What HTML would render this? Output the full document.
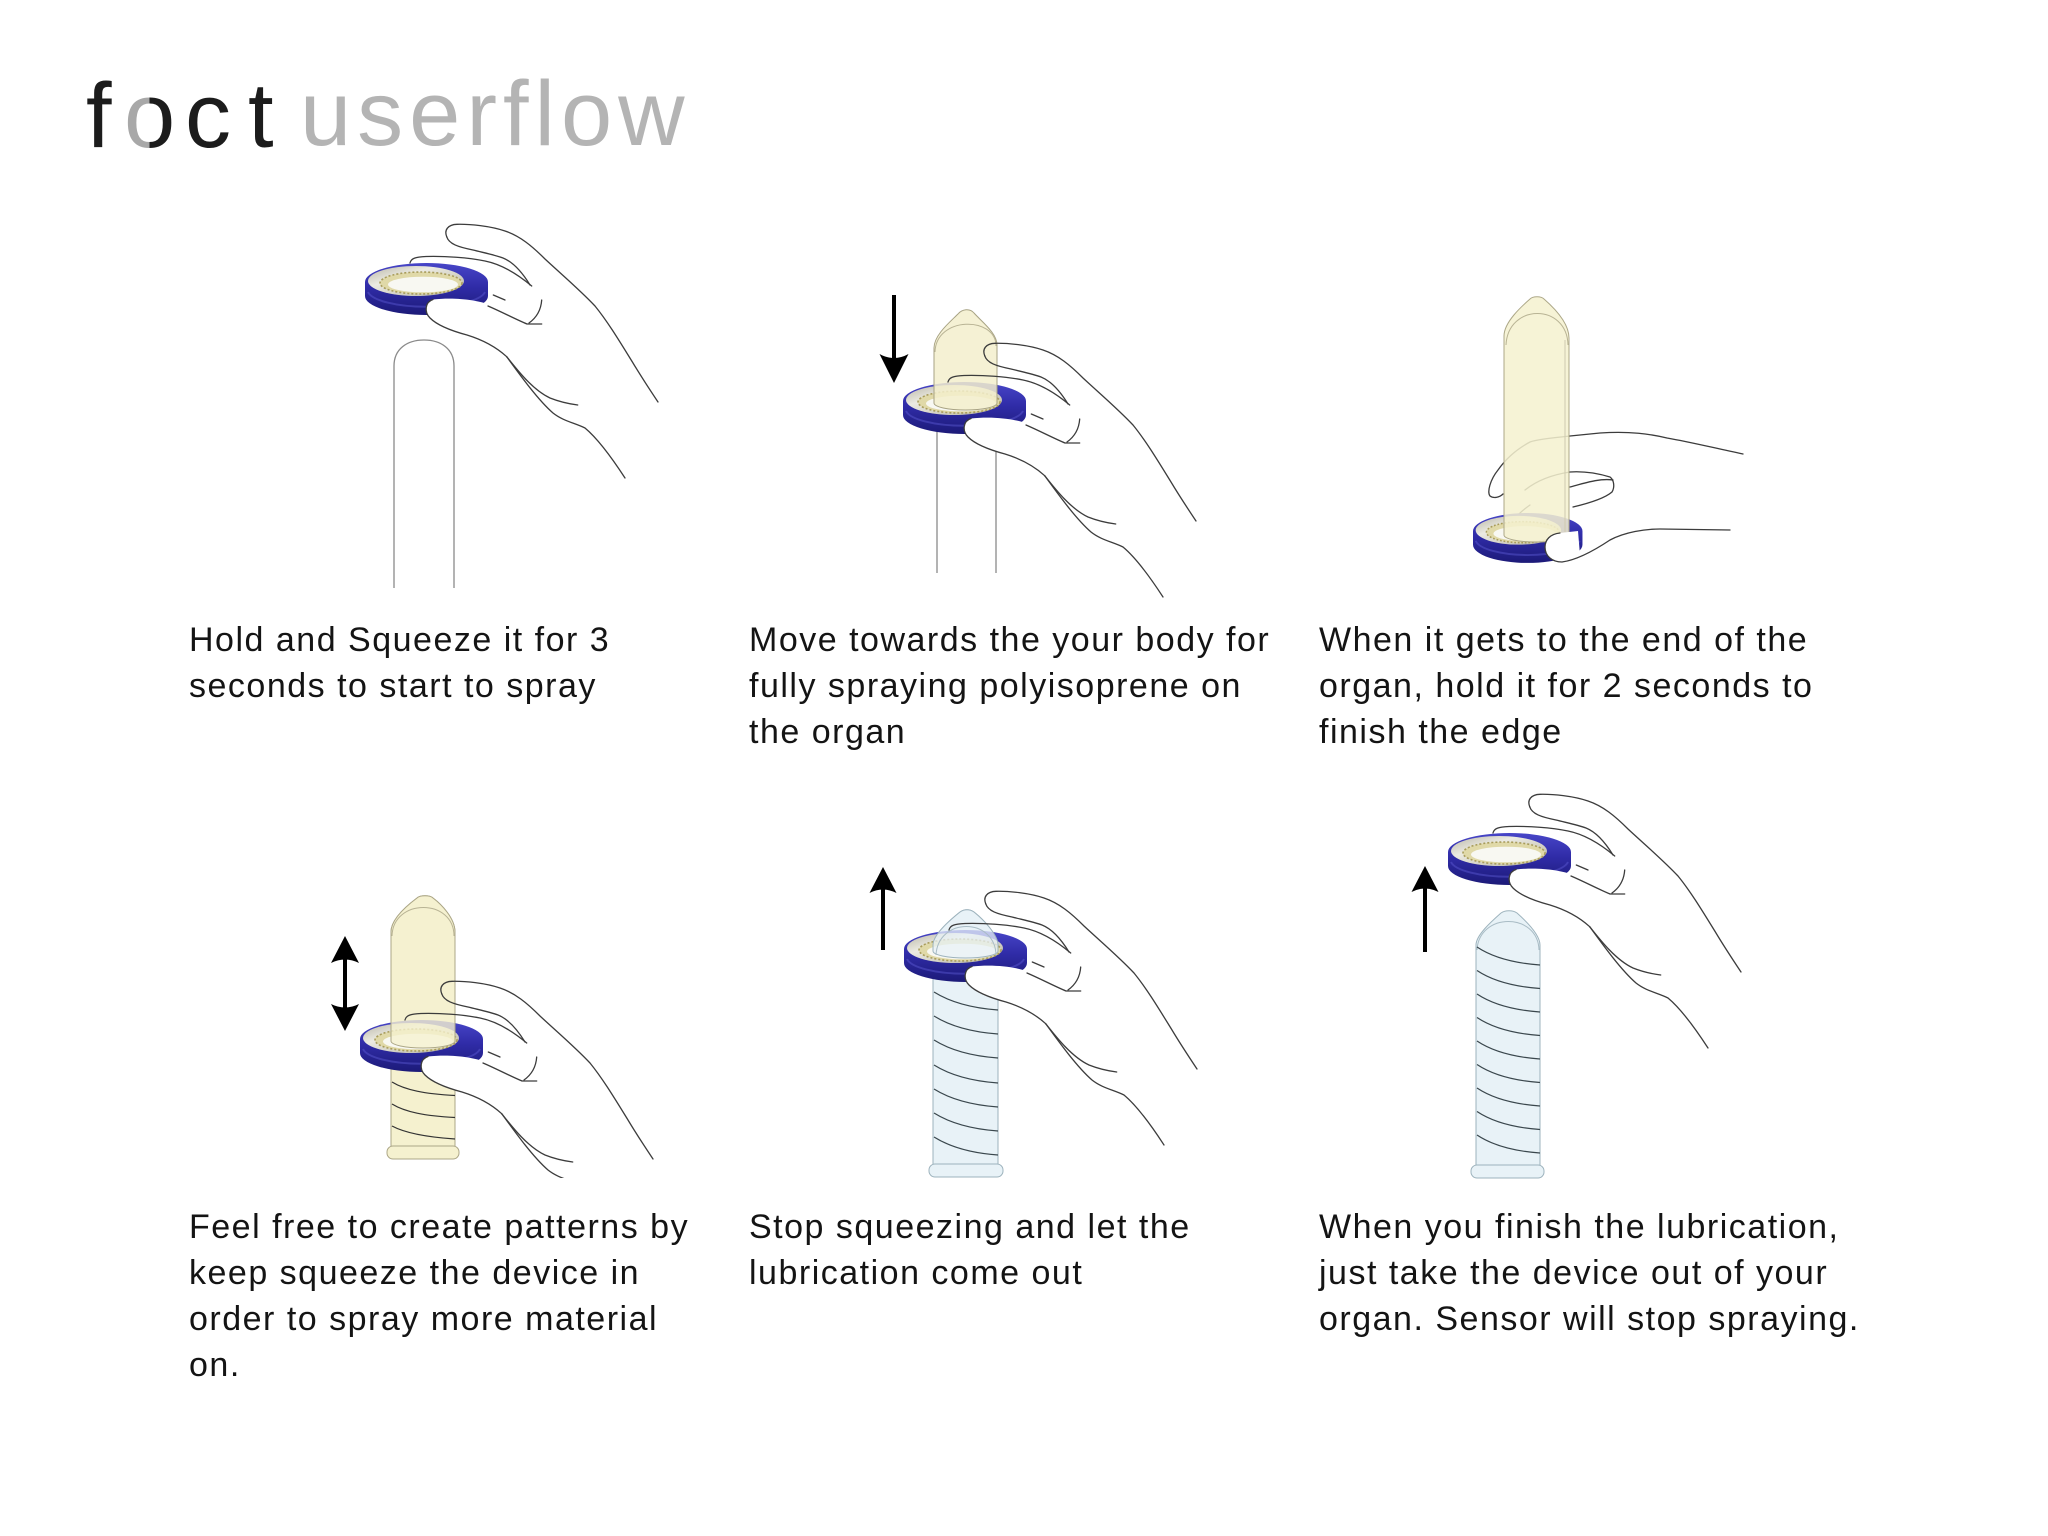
<!DOCTYPE html>
<html>
<head>
<meta charset="utf-8">
<style>
  html,body{margin:0;padding:0;background:#fff;}
  svg{display:block;}
  .t{font-family:"Liberation Sans",Arial,sans-serif;font-size:34px;letter-spacing:1.5px;fill:#141414;}
</style>
</head>
<body>
<svg width="2048" height="1536" viewBox="0 0 2048 1536" xmlns="http://www.w3.org/2000/svg">
<defs>
  <linearGradient id="blue" x1="0" y1="0" x2="0" y2="1">
    <stop offset="0" stop-color="#4846c8"/>
    <stop offset="0.45" stop-color="#302ca8"/>
    <stop offset="1" stop-color="#1c1a78"/>
  </linearGradient>
  <linearGradient id="silver" x1="0" y1="0" x2="1" y2="1">
    <stop offset="0" stop-color="#b8b5a6"/>
    <stop offset="0.35" stop-color="#ecebe2"/>
    <stop offset="1" stop-color="#b3b0a0"/>
  </linearGradient>
  <linearGradient id="ograd" x1="0" y1="0" x2="1" y2="0">
    <stop offset="0" stop-color="#a8a8a8"/>
    <stop offset="0.5" stop-color="#a8a8a8"/>
    <stop offset="0.5" stop-color="#1c1c1c"/>
    <stop offset="1" stop-color="#1c1c1c"/>
  </linearGradient>
  <clipPath id="clip4">
    <rect x="0" y="800" width="2048" height="378"/>
  </clipPath>

  <g id="ring">
    <path d="M365,282 A61.5,19 0 0 1 488,282 L488,296 A61.5,19 0 0 1 365,296 Z" fill="url(#blue)"/>
    <path d="M368,292 A59,17 0 0 0 485,292" fill="none" stroke="#5e5cd4" stroke-width="2" opacity="0.45"/>
    <ellipse cx="416" cy="281" rx="48" ry="15" fill="url(#silver)"/>
    <ellipse cx="421" cy="283" rx="41" ry="11" fill="#e0d9a8" stroke="#a89c5c" stroke-width="1.6" stroke-dasharray="2 2"/>
    <ellipse cx="423" cy="284.5" rx="35" ry="7.8" fill="#f8f8f2"/>
  </g>

  <g id="hand" fill="none" stroke="#3c3c3c" stroke-width="1.3" stroke-linecap="round" stroke-linejoin="round">
    <path d="M446.7,236.7 C444,230 448,224.5 457,224.3 C470,224 490,226 505,231 C520,236 532,246 545,259 C560,273 580,290 595,306 C608,322 620,342 633,363 C642,378 650,390 658,402"/>
    <path d="M446.7,236.7 C449,244 458,247 473,250 C485,253 495,255 503,258 C513,262 522,272 530,285"/>
    <path d="M410,263 C411,258.5 415,257 426,256.5 C445,256 468,257.5 485,261 C500,264 515,272 531.7,286"/>
    <path d="M493.3,295 L505,300"/>
    <path d="M541.7,300 C541,310 536,318 529,323"/>
    <path d="M526.7,324 L541.7,324"/>
    <path d="M433,299.5 C455,297 478,300 490,305 L527,324 L535,340 L506.7,356.7 C495,347 480,340 467,335 C452,331 438,326 430,318 C424,312 425,302 433,299.5 Z" fill="#fff" stroke="none"/>
    <path d="M433,299.5 C425,302 424,312 430,318 C438,326 452,331 467,335 C480,339 495,346 506.7,356.7"/>
    <path d="M488,306 C502,312 515,319 527,324"/>
    <path d="M506.7,356.7 C518,371 533,390 550,398 C560,402 570,404 577.7,405"/>
    <path d="M506.7,356.7 C520,375 538,400 553,413 C563,421 575,423 585,428 C597,438 612,458 625,478"/>
  </g>
</defs>

<rect width="2048" height="1536" fill="#fff"/>

<!-- Title -->
<g font-family="Liberation Sans, Arial, sans-serif" font-size="92">
  <text x="86" y="147" fill="#1c1c1c">f</text>
  <text x="124" y="147" fill="url(#ograd)">o</text>
  <text x="185" y="147" fill="#1c1c1c">c</text>
  <text x="248" y="147" fill="#1c1c1c">t</text>
  <text x="300" y="145" fill="#b4b4b4" letter-spacing="6">userflow</text>
</g>

<!-- ============ PANEL 1 ============ -->
<path d="M394,588 L394,366 C394,349 407,340 424,340 C441,340 454,349 454,366 L454,588" fill="none" stroke="#8a8a8a" stroke-width="1.3"/>
<use href="#ring"/>
<use href="#hand"/>

<!-- ============ PANEL 2 ============ -->
<g stroke="#8a8a8a" stroke-width="1.3">
  <line x1="937" y1="428" x2="937" y2="573"/>
  <line x1="996" y1="428" x2="996" y2="573"/>
</g>
<rect x="892" y="295" width="4" height="66" fill="#000"/>
<path d="M894,383 L879.5,354 Q894,362 908.5,354 Z" fill="#000"/>
<use href="#ring" transform="translate(538,119)"/>
<path d="M934,403 L934,348 C934,335 950,322 958,314 C962,309 970,308 974,313 C982,322 997,333 997,345 L997,403 A31.5,7 0 0 1 934,403 Z" fill="#f3efcc" fill-opacity="0.85" stroke="#a7a283" stroke-width="1"/>
<path d="M935,352 C936,316 996,316 996,346" fill="none" stroke="#b8b394" stroke-width="1"/>
<use href="#hand" transform="translate(538,119)"/>

<!-- ============ PANEL 3 ============ -->
<g fill="none" stroke="#3c3c3c" stroke-width="1.3" stroke-linecap="round">
  <path d="M1743,454 C1710,447 1690,442 1667,438 C1650,434 1630,431 1600,433 L1570,436 C1550,438 1535,440 1530,442 C1515,450 1505,460 1498,470 C1490,480 1487,492 1490,496 C1494,499 1500,497 1503,494"/>
  <path d="M1573,507 C1590,503 1605,498 1612,492 C1615,487 1614,480 1610,477 C1600,474 1585,471 1570,472 C1550,475 1535,482 1525,490"/>
  <path d="M1570,487 C1585,483 1600,478 1613,480"/>
  <path d="M1530,505 C1520,512 1512,520 1510,528"/>
</g>
<use href="#ring" transform="translate(1473,513) scale(0.89,0.96) translate(-365,-263)"/>
<path d="M1504,535 L1504,336 C1504,322 1522,306 1530,299 C1533,296 1541,296 1544,299 C1552,306 1569,322 1569,338 L1569,535 A32.5,7 0 0 1 1504,535 Z" fill="#f5f1cf" fill-opacity="0.86" stroke="#aca787" stroke-width="1"/>
<path d="M1506,345 C1508,303 1567,303 1568,345" fill="none" stroke="#b8b394" stroke-width="1"/>
<line x1="1565" y1="340" x2="1565" y2="532" stroke="#cfcab0" stroke-width="1"/>
<path d="M1560,533 C1550,534 1545,540 1545,547 C1545,556 1552,562 1562,562 L1580,555 L1578,531 Z" fill="#fff"/>
<g fill="none" stroke="#3c3c3c" stroke-width="1.3" stroke-linecap="round">
  <path d="M1560,533 C1550,534 1545,540 1545,547 C1545,556 1552,562 1562,562 C1577,560 1595,550 1610,540 C1625,532 1645,529 1660,529 L1730,530"/>
</g>

<!-- ============ PANEL 4 ============ -->
<g fill="#f5f1cf" stroke="#aca787" stroke-width="1">
  <path d="M391,1147 L391,932 C391,918 409,904 417,898 C420,895 430,895 433,898 C441,904 455,918 455,932 L455,1147 Z"/>
  <rect x="387" y="1146" width="72" height="13" rx="6"/>
</g>
<g fill="none" stroke="#333" stroke-width="1.2">
  <path d="M392,1082 C405,1090 425,1094 455,1095.5"/>
  <path d="M392,1104 C405,1112 425,1116 455,1117.5"/>
  <path d="M392,1126 C405,1133 425,1137 455,1139"/>
</g>
<rect x="343" y="955" width="4" height="58" fill="#000"/>
<path d="M345,936 L331,963 Q345,956 359,963 Z" fill="#000"/>
<path d="M345,1031 L331,1004 Q345,1011 359,1004 Z" fill="#000"/>
<use href="#ring" transform="translate(-5,757)"/>
<path d="M391,1041 L391,932 C391,918 409,904 417,898 C420,895 430,895 433,898 C441,904 455,918 455,932 L455,1041 A32,7 0 0 1 391,1041 Z" fill="#f5f1cf" fill-opacity="0.8" stroke="#aca787" stroke-width="1"/>
<path d="M392,936 C393,898 454,898 454,936" fill="none" stroke="#b8b394" stroke-width="1"/>
<g clip-path="url(#clip4)">
  <use href="#hand" transform="translate(-5,757)"/>
</g>

<!-- ============ PANEL 5 ============ -->
<g fill="#e8f2f7" stroke="#9db3bd" stroke-width="1">
  <path d="M933,1166 L933,945 C933,935 950,920 960,912 C964,909 970,909 974,912 C984,920 998,935 998,945 L998,1166 Z"/>
  <rect x="929" y="1164" width="74" height="13" rx="6"/>
</g>
<g fill="none" stroke="#3a474d" stroke-width="1.2">
  <path d="M934,992 C950,1002 970,1008 998,1010"/>
  <path d="M934,1016 C950,1026 970,1032 998,1034"/>
  <path d="M934,1040 C950,1050 970,1056 998,1058"/>
  <path d="M934,1065 C950,1075 970,1081 998,1083"/>
  <path d="M934,1089 C950,1099 970,1105 998,1107"/>
  <path d="M934,1113 C950,1123 970,1129 998,1131"/>
  <path d="M934,1137 C950,1147 970,1153 998,1155"/>
</g>
<rect x="881" y="885" width="4" height="65" fill="#000"/>
<path d="M883,867 L869.5,893 Q883,886 896.5,893 Z" fill="#000"/>
<use href="#ring" transform="translate(539,667)"/>
<path d="M933,951 L933,945 C933,935 950,920 960,912 C964,909 970,909 974,912 C984,920 998,935 998,945 L998,951 A32.5,7 0 0 1 933,951 Z" fill="#e8f2f7" fill-opacity="0.75" stroke="#9db3bd" stroke-width="1"/>
<path d="M936,955 C938,917 995,917 996,955" fill="none" stroke="#a9bcc5" stroke-width="1"/>
<use href="#hand" transform="translate(539,667)"/>

<!-- ============ PANEL 6 ============ -->
<g fill="#e8f2f7" stroke="#9db3bd" stroke-width="1">
  <path d="M1476,1166 L1476,945 C1476,935 1492,921 1501,913 C1505,910 1513,910 1517,913 C1526,921 1540,935 1540,945 L1540,1166 Z"/>
  <rect x="1471" y="1165" width="73" height="13" rx="6"/>
</g>
<path d="M1477,950 C1479,912 1538,912 1539,950" fill="none" stroke="#a9bcc5" stroke-width="1"/>
<g fill="none" stroke="#3a474d" stroke-width="1.2">
  <path d="M1477,947 C1492,957 1512,963 1540,965"/>
  <path d="M1477,970.5 C1492,980.5 1512,986.5 1540,988.5"/>
  <path d="M1477,994 C1492,1004 1512,1010 1540,1012"/>
  <path d="M1477,1017.5 C1492,1027.5 1512,1033.5 1540,1035.5"/>
  <path d="M1477,1041 C1492,1051 1512,1057 1540,1059"/>
  <path d="M1477,1064.5 C1492,1074.5 1512,1080.5 1540,1082.5"/>
  <path d="M1477,1088 C1492,1098 1512,1104 1540,1106"/>
  <path d="M1477,1111.5 C1492,1121.5 1512,1127.5 1540,1129.5"/>
  <path d="M1477,1135 C1492,1145 1512,1151 1540,1153"/>
</g>
<rect x="1423" y="885" width="4" height="67" fill="#000"/>
<path d="M1425,866 L1411.5,892 Q1425,885 1438.5,892 Z" fill="#000"/>
<use href="#ring" transform="translate(1083,570)"/>
<use href="#hand" transform="translate(1083,570)"/>

<!-- ============ TEXT ============ -->
<text class="t" x="189" y="651">Hold and Squeeze it for 3</text>
<text class="t" x="189" y="697">seconds to start to spray</text>

<text class="t" x="749" y="651">Move towards the your body for</text>
<text class="t" x="749" y="697">fully spraying polyisoprene on</text>
<text class="t" x="749" y="743">the organ</text>

<text class="t" x="1319" y="651">When it gets to the end of the</text>
<text class="t" x="1319" y="697">organ, hold it for 2 seconds to</text>
<text class="t" x="1319" y="743">finish the edge</text>

<text class="t" x="189" y="1238">Feel free to create patterns by</text>
<text class="t" x="189" y="1284">keep squeeze the device in</text>
<text class="t" x="189" y="1330">order to spray more material</text>
<text class="t" x="189" y="1376">on.</text>

<text class="t" x="749" y="1238">Stop squeezing and let the</text>
<text class="t" x="749" y="1284">lubrication come out</text>

<text class="t" x="1319" y="1238">When you finish the lubrication,</text>
<text class="t" x="1319" y="1284">just take the device out of your</text>
<text class="t" x="1319" y="1330">organ. Sensor will stop spraying.</text>
</svg>
</body>
</html>
